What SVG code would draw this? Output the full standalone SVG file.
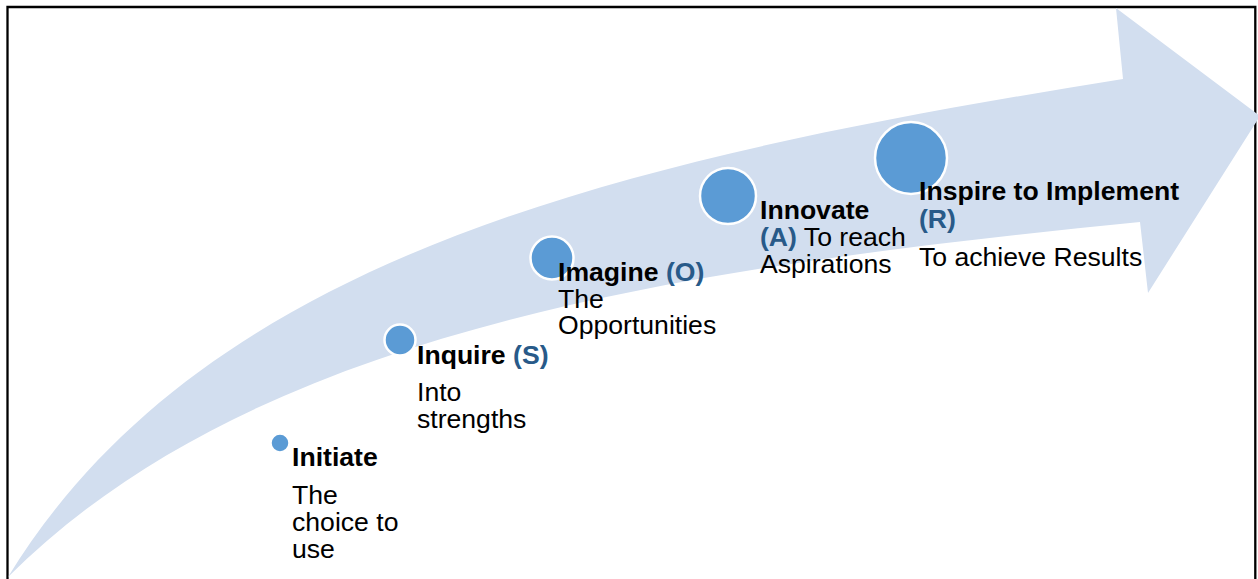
<svg xmlns="http://www.w3.org/2000/svg" width="1258" height="579" viewBox="0 0 1258 579">
  <style>
    text { font-family: "Liberation Sans", Arial, sans-serif; font-size: 26.6px; fill: #000; }
    .b { font-weight: bold; }
    .k { font-weight: bold; fill: #285A89; }
    .dot { fill: #5B9BD5; stroke: #FFFFFF; stroke-width: 2.5; }
  </style>
  <rect x="0" y="0" width="1258" height="579" fill="#FFFFFF"/>
  <g id="frame">
    <path d="M 7.5 579 V 7 H 1255.3 V 579" fill="none" stroke="#000" stroke-width="2.3"/>
  </g>
  <g id="arrow">
    <path d="M 8 577 C 205 255 623 159 1123 79 L 1116 8 L 1260 116 L 1148 293 L 1140 222 C 690 267 258 327 8 577 Z" fill="#D2DEEF"/>
  </g>
  <g id="node-initiate">
    <circle class="dot" cx="280" cy="443" r="9.5" stroke-width="1"/>
    <text x="292" y="466" class="b">Initiate</text>
    <text x="292" y="504">The</text>
    <text x="292" y="531">choice to</text>
    <text x="292" y="558">use</text>
  </g>
  <g id="node-inquire">
    <circle class="dot" cx="400" cy="340" r="15.5"/>
    <text x="417" y="364"><tspan class="b">Inquire </tspan><tspan class="k">(S)</tspan></text>
    <text x="417" y="401">Into</text>
    <text x="417" y="428">strengths</text>
  </g>
  <g id="node-imagine">
    <circle class="dot" cx="552" cy="258" r="21.5"/>
    <text x="558" y="281"><tspan class="b">Imagine </tspan><tspan class="k">(O)</tspan></text>
    <text x="558" y="307.5">The</text>
    <text x="558" y="334">Opportunities</text>
  </g>
  <g id="node-innovate">
    <circle class="dot" cx="728" cy="196" r="28"/>
    <text x="760" y="219" class="b">Innovate</text>
    <text x="760" y="246"><tspan class="k">(A)</tspan><tspan> To reach</tspan></text>
    <text x="760" y="273">Aspirations</text>
  </g>
  <g id="node-inspire">
    <circle class="dot" cx="911" cy="158" r="36"/>
    <text x="919" y="200" class="b">Inspire to Implement</text>
    <text x="919" y="228" class="k">(R)</text>
    <text x="919" y="266">To achieve Results</text>
  </g>
</svg>
